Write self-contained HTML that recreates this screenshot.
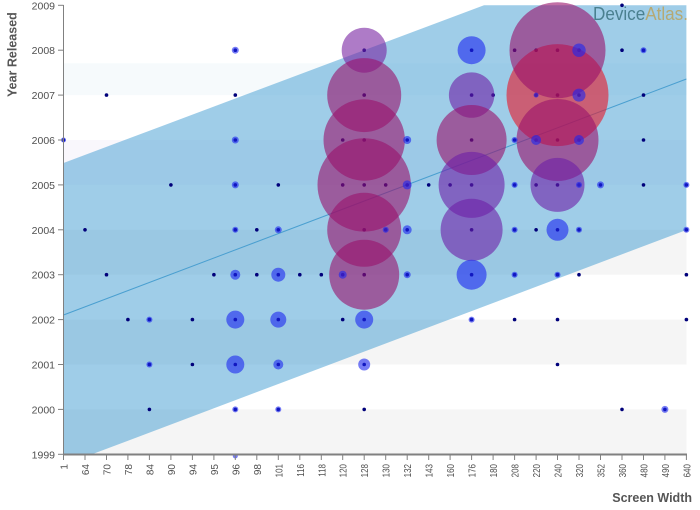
<!DOCTYPE html>
<html><head><meta charset="utf-8"><style>
html,body{margin:0;padding:0;background:#fff;}
svg{display:block;}
text{font-family:"Liberation Sans",Arial,sans-serif;}
</style></head><body>
<svg width="700" height="510" viewBox="0 0 700 510" xmlns="http://www.w3.org/2000/svg">
<!-- bands -->
<rect x="63.5" y="63.3" width="623" height="31.8" fill="#f6fafc"/>
<rect x="63.5" y="140" width="623" height="44.9" fill="#f9f7fc"/>
<rect x="63.5" y="229.8" width="623" height="44.9" fill="#f5f5f5"/>
<rect x="63.5" y="319.6" width="623" height="44.9" fill="#f5f5f5"/>
<rect x="63.5" y="409.4" width="623" height="44.9" fill="#f5f5f5"/>
<!-- confidence polygon -->
<polygon points="63.5,163 484,5.3 686.4,5.3 686.4,230 92,454.3 63.5,454.3" fill="rgb(70,160,210)" fill-opacity="0.52"/>
<!-- regression line -->
<line x1="63.5" y1="315" x2="686.4" y2="79" stroke="#4a9fd0" stroke-width="1"/>
<!-- dots -->
<g fill="#00007a">
<circle cx="622" cy="5.3" r="1.8"/>
<circle cx="235.3" cy="50.2" r="1.8"/><circle cx="364.2" cy="50.2" r="1.8"/><circle cx="471.6" cy="50.2" r="1.8"/><circle cx="514.6" cy="50.2" r="1.8"/><circle cx="536.1" cy="50.2" r="1.8"/><circle cx="557.5" cy="50.2" r="1.8"/><circle cx="579" cy="50.2" r="1.8"/><circle cx="622" cy="50.2" r="1.8"/><circle cx="643.5" cy="50.2" r="1.8"/>
<circle cx="106.5" cy="95.1" r="1.8"/><circle cx="235.3" cy="95.1" r="1.8"/><circle cx="364.2" cy="95.1" r="1.8"/><circle cx="471.6" cy="95.1" r="1.8"/><circle cx="493.1" cy="95.1" r="1.8"/><circle cx="536.1" cy="95.1" r="1.8"/><circle cx="557.5" cy="95.1" r="1.8"/><circle cx="579" cy="95.1" r="1.8"/><circle cx="643.5" cy="95.1" r="1.8"/>
<circle cx="63.5" cy="140" r="1.8"/><circle cx="235.3" cy="140" r="1.8"/><circle cx="342.7" cy="140" r="1.8"/><circle cx="364.2" cy="140" r="1.8"/><circle cx="407.2" cy="140" r="1.8"/><circle cx="471.6" cy="140" r="1.8"/><circle cx="514.6" cy="140" r="1.8"/><circle cx="536.1" cy="140" r="1.8"/><circle cx="557.5" cy="140" r="1.8"/><circle cx="579" cy="140" r="1.8"/><circle cx="643.5" cy="140" r="1.8"/>
<circle cx="170.9" cy="184.9" r="1.8"/><circle cx="235.3" cy="184.9" r="1.8"/><circle cx="278.3" cy="184.9" r="1.8"/><circle cx="342.7" cy="184.9" r="1.8"/><circle cx="364.2" cy="184.9" r="1.8"/><circle cx="385.7" cy="184.9" r="1.8"/><circle cx="407.2" cy="184.9" r="1.8"/><circle cx="428.7" cy="184.9" r="1.8"/><circle cx="450.1" cy="184.9" r="1.8"/><circle cx="471.6" cy="184.9" r="1.8"/><circle cx="514.6" cy="184.9" r="1.8"/><circle cx="536.1" cy="184.9" r="1.8"/><circle cx="557.5" cy="184.9" r="1.8"/><circle cx="579" cy="184.9" r="1.8"/><circle cx="600.5" cy="184.9" r="1.8"/><circle cx="643.5" cy="184.9" r="1.8"/><circle cx="686.4" cy="184.9" r="1.8"/>
<circle cx="85" cy="229.8" r="1.8"/><circle cx="235.3" cy="229.8" r="1.8"/><circle cx="256.8" cy="229.8" r="1.8"/><circle cx="278.3" cy="229.8" r="1.8"/><circle cx="364.2" cy="229.8" r="1.8"/><circle cx="385.7" cy="229.8" r="1.8"/><circle cx="407.2" cy="229.8" r="1.8"/><circle cx="471.6" cy="229.8" r="1.8"/><circle cx="514.6" cy="229.8" r="1.8"/><circle cx="536.1" cy="229.8" r="1.8"/><circle cx="557.5" cy="229.8" r="1.8"/><circle cx="579" cy="229.8" r="1.8"/><circle cx="686.4" cy="229.8" r="1.8"/>
<circle cx="106.5" cy="274.7" r="1.8"/><circle cx="213.9" cy="274.7" r="1.8"/><circle cx="235.3" cy="274.7" r="1.8"/><circle cx="256.8" cy="274.7" r="1.8"/><circle cx="278.3" cy="274.7" r="1.8"/><circle cx="299.8" cy="274.7" r="1.8"/><circle cx="321.3" cy="274.7" r="1.8"/><circle cx="342.7" cy="274.7" r="1.8"/><circle cx="364.2" cy="274.7" r="1.8"/><circle cx="407.2" cy="274.7" r="1.8"/><circle cx="471.6" cy="274.7" r="1.8"/><circle cx="514.6" cy="274.7" r="1.8"/><circle cx="557.5" cy="274.7" r="1.8"/><circle cx="579" cy="274.7" r="1.8"/><circle cx="686.4" cy="274.7" r="1.8"/>
<circle cx="127.9" cy="319.6" r="1.8"/><circle cx="149.4" cy="319.6" r="1.8"/><circle cx="192.4" cy="319.6" r="1.8"/><circle cx="235.3" cy="319.6" r="1.8"/><circle cx="278.3" cy="319.6" r="1.8"/><circle cx="342.7" cy="319.6" r="1.8"/><circle cx="364.2" cy="319.6" r="1.8"/><circle cx="471.6" cy="319.6" r="1.8"/><circle cx="514.6" cy="319.6" r="1.8"/><circle cx="557.5" cy="319.6" r="1.8"/><circle cx="686.4" cy="319.6" r="1.8"/>
<circle cx="149.4" cy="364.5" r="1.8"/><circle cx="192.4" cy="364.5" r="1.8"/><circle cx="235.3" cy="364.5" r="1.8"/><circle cx="278.3" cy="364.5" r="1.8"/><circle cx="364.2" cy="364.5" r="1.8"/><circle cx="557.5" cy="364.5" r="1.8"/>
<circle cx="149.4" cy="409.4" r="1.8"/><circle cx="235.3" cy="409.4" r="1.8"/><circle cx="278.3" cy="409.4" r="1.8"/><circle cx="364.2" cy="409.4" r="1.8"/><circle cx="622" cy="409.4" r="1.8"/><circle cx="664.9" cy="409.4" r="1.8"/>
</g>
<!-- big bubbles -->
<g fill-opacity="0.6">
<circle cx="557.5" cy="95.1" r="51" fill="rgb(232,22,40)"/>
<circle cx="557.5" cy="50.2" r="48" fill="rgb(154,17,107)"/>
<circle cx="557.5" cy="140" r="41" fill="rgb(154,17,107)"/>
<circle cx="557.5" cy="184.9" r="27" fill="rgb(110,30,166)"/>
<circle cx="364.2" cy="50.2" r="22.5" fill="rgb(120,35,162)"/>
<circle cx="364.2" cy="95.1" r="37" fill="rgb(154,17,107)"/>
<circle cx="364.2" cy="140" r="40.7" fill="rgb(154,17,107)"/>
<circle cx="364.2" cy="184.9" r="46.7" fill="rgb(154,17,107)"/>
<circle cx="364.2" cy="229.8" r="37" fill="rgb(154,17,107)"/>
<circle cx="364.2" cy="274.7" r="35" fill="rgb(154,17,107)"/>
<circle cx="471.6" cy="95.1" r="22.7" fill="rgb(110,30,166)"/>
<circle cx="471.6" cy="140" r="35" fill="rgb(154,17,107)"/>
<circle cx="471.6" cy="184.9" r="33" fill="rgb(110,30,166)"/>
<circle cx="471.6" cy="229.8" r="31" fill="rgb(110,30,166)"/>
</g>
<!-- blue bubbles / halos -->
<g fill="rgb(28,38,240)" fill-opacity="0.6">
<circle cx="471.6" cy="50.2" r="14"/><circle cx="579" cy="50.2" r="6.7"/><circle cx="235.3" cy="50.2" r="3.5"/><circle cx="643.5" cy="50.2" r="3"/>
<circle cx="579" cy="95.1" r="6.5"/><circle cx="536.1" cy="95.1" r="2.5"/>
<circle cx="63.5" cy="140" r="2.5"/><circle cx="235.3" cy="140" r="3.5"/><circle cx="407.2" cy="140" r="4"/><circle cx="514.6" cy="140" r="3"/><circle cx="536.1" cy="140" r="5"/><circle cx="579" cy="140" r="5"/>
<circle cx="235.3" cy="184.9" r="3.5"/><circle cx="407.2" cy="184.9" r="4.5"/><circle cx="514.6" cy="184.9" r="3"/><circle cx="579" cy="184.9" r="3"/><circle cx="600.5" cy="184.9" r="3.5"/><circle cx="686.4" cy="184.9" r="3"/>
<circle cx="235.3" cy="229.8" r="3"/><circle cx="278.3" cy="229.8" r="3.5"/><circle cx="385.7" cy="229.8" r="3"/><circle cx="407.2" cy="229.8" r="4.5"/><circle cx="514.6" cy="229.8" r="3"/><circle cx="557.5" cy="229.8" r="11"/><circle cx="579" cy="229.8" r="3"/><circle cx="686.4" cy="229.8" r="3"/>
<circle cx="235.3" cy="274.7" r="5"/><circle cx="278.3" cy="274.7" r="7"/><circle cx="342.7" cy="274.7" r="4"/><circle cx="407.2" cy="274.7" r="3.5"/><circle cx="471.6" cy="274.7" r="15"/><circle cx="514.6" cy="274.7" r="3"/><circle cx="557.5" cy="274.7" r="3"/>
<circle cx="149.4" cy="319.6" r="3"/><circle cx="235.3" cy="319.6" r="9"/><circle cx="278.3" cy="319.6" r="8"/><circle cx="364.2" cy="319.6" r="9"/><circle cx="471.6" cy="319.6" r="3"/>
<circle cx="149.4" cy="364.5" r="3"/><circle cx="235.3" cy="364.5" r="9"/><circle cx="278.3" cy="364.5" r="5"/><circle cx="364.2" cy="364.5" r="6"/>
<circle cx="235.3" cy="409.4" r="3"/><circle cx="278.3" cy="409.4" r="3"/><circle cx="664.9" cy="409.4" r="3.5"/>
<circle cx="235.3" cy="456" r="2.5"/>
</g>
<!-- logo -->
<text x="593" y="20" font-size="18" textLength="95" lengthAdjust="spacingAndGlyphs"><tspan fill="#4a8090">Device</tspan><tspan fill="#b5a974">Atlas.</tspan></text>
<!-- axes -->
<line x1="63.5" y1="5" x2="63.5" y2="455" stroke="#808080" stroke-width="1"/>
<line x1="63" y1="454.5" x2="687" y2="454.5" stroke="#808080" stroke-width="2"/>
<g stroke="#808080" stroke-width="1">
<line x1="58" y1="5.3" x2="63.5" y2="5.3"/><line x1="58" y1="50.2" x2="63.5" y2="50.2"/><line x1="58" y1="95.1" x2="63.5" y2="95.1"/><line x1="58" y1="140" x2="63.5" y2="140"/><line x1="58" y1="184.9" x2="63.5" y2="184.9"/><line x1="58" y1="229.8" x2="63.5" y2="229.8"/><line x1="58" y1="274.7" x2="63.5" y2="274.7"/><line x1="58" y1="319.6" x2="63.5" y2="319.6"/><line x1="58" y1="364.5" x2="63.5" y2="364.5"/><line x1="58" y1="409.4" x2="63.5" y2="409.4"/><line x1="58" y1="454.3" x2="63.5" y2="454.3"/>
<line x1="63.5" y1="455" x2="63.5" y2="460"/><line x1="85" y1="455" x2="85" y2="460"/><line x1="106.5" y1="455" x2="106.5" y2="460"/><line x1="127.9" y1="455" x2="127.9" y2="460"/><line x1="149.4" y1="455" x2="149.4" y2="460"/><line x1="170.9" y1="455" x2="170.9" y2="460"/><line x1="192.4" y1="455" x2="192.4" y2="460"/><line x1="213.9" y1="455" x2="213.9" y2="460"/><line x1="235.3" y1="455" x2="235.3" y2="460"/><line x1="256.8" y1="455" x2="256.8" y2="460"/><line x1="278.3" y1="455" x2="278.3" y2="460"/><line x1="299.8" y1="455" x2="299.8" y2="460"/><line x1="321.3" y1="455" x2="321.3" y2="460"/><line x1="342.7" y1="455" x2="342.7" y2="460"/><line x1="364.2" y1="455" x2="364.2" y2="460"/><line x1="385.7" y1="455" x2="385.7" y2="460"/><line x1="407.2" y1="455" x2="407.2" y2="460"/><line x1="428.7" y1="455" x2="428.7" y2="460"/><line x1="450.1" y1="455" x2="450.1" y2="460"/><line x1="471.6" y1="455" x2="471.6" y2="460"/><line x1="493.1" y1="455" x2="493.1" y2="460"/><line x1="514.6" y1="455" x2="514.6" y2="460"/><line x1="536.1" y1="455" x2="536.1" y2="460"/><line x1="557.5" y1="455" x2="557.5" y2="460"/><line x1="579" y1="455" x2="579" y2="460"/><line x1="600.5" y1="455" x2="600.5" y2="460"/><line x1="622" y1="455" x2="622" y2="460"/><line x1="643.5" y1="455" x2="643.5" y2="460"/><line x1="664.9" y1="455" x2="664.9" y2="460"/><line x1="686.4" y1="455" x2="686.4" y2="460"/>
</g>
<!-- y labels -->
<g font-size="10.5" fill="#505050" text-anchor="end">
<text x="55" y="9.3">2009</text><text x="55" y="54.2">2008</text><text x="55" y="99.1">2007</text><text x="55" y="144">2006</text><text x="55" y="188.9">2005</text><text x="55" y="233.8">2004</text><text x="55" y="278.7">2003</text><text x="55" y="323.6">2002</text><text x="55" y="368.5">2001</text><text x="55" y="413.4">2000</text><text x="55" y="458.3">1999</text>
</g>
<!-- x labels -->
<g font-size="10" fill="#505050" text-anchor="end">
<text transform="translate(67.5,464) rotate(-90)">1</text>
<text transform="translate(89,464) rotate(-90)">64</text>
<text transform="translate(110.5,464) rotate(-90)">70</text>
<text transform="translate(131.9,464) rotate(-90)">78</text>
<text transform="translate(153.4,464) rotate(-90)">84</text>
<text transform="translate(174.9,464) rotate(-90)">90</text>
<text transform="translate(196.4,464) rotate(-90)">94</text>
<text transform="translate(217.9,464) rotate(-90)">95</text>
<text transform="translate(239.3,464) rotate(-90)">96</text>
<text transform="translate(260.8,464) rotate(-90)">98</text>
<text transform="translate(282.3,464) rotate(-90) scale(0.8,1)">101</text>
<text transform="translate(303.8,464) rotate(-90) scale(0.8,1)">116</text>
<text transform="translate(325.3,464) rotate(-90) scale(0.8,1)">118</text>
<text transform="translate(346.7,464) rotate(-90) scale(0.8,1)">120</text>
<text transform="translate(368.2,464) rotate(-90) scale(0.8,1)">128</text>
<text transform="translate(389.7,464) rotate(-90) scale(0.8,1)">130</text>
<text transform="translate(411.2,464) rotate(-90) scale(0.8,1)">132</text>
<text transform="translate(432.7,464) rotate(-90) scale(0.8,1)">143</text>
<text transform="translate(454.1,464) rotate(-90) scale(0.8,1)">160</text>
<text transform="translate(475.6,464) rotate(-90) scale(0.8,1)">176</text>
<text transform="translate(497.1,464) rotate(-90) scale(0.8,1)">180</text>
<text transform="translate(518.6,464) rotate(-90) scale(0.8,1)">208</text>
<text transform="translate(540.1,464) rotate(-90) scale(0.8,1)">220</text>
<text transform="translate(561.5,464) rotate(-90) scale(0.8,1)">240</text>
<text transform="translate(583,464) rotate(-90) scale(0.8,1)">320</text>
<text transform="translate(604.5,464) rotate(-90) scale(0.8,1)">352</text>
<text transform="translate(626,464) rotate(-90) scale(0.8,1)">360</text>
<text transform="translate(647.5,464) rotate(-90) scale(0.8,1)">480</text>
<text transform="translate(668.9,464) rotate(-90) scale(0.8,1)">490</text>
<text transform="translate(690.4,464) rotate(-90) scale(0.8,1)">640</text>
</g>
<!-- axis titles -->
<text transform="translate(16.5,97) rotate(-90)" font-size="12.5" font-weight="bold" fill="#555">Year Released</text>
<text x="692" y="502" font-size="12.5" font-weight="bold" fill="#555" text-anchor="end">Screen Width</text>
</svg>
</body></html>
